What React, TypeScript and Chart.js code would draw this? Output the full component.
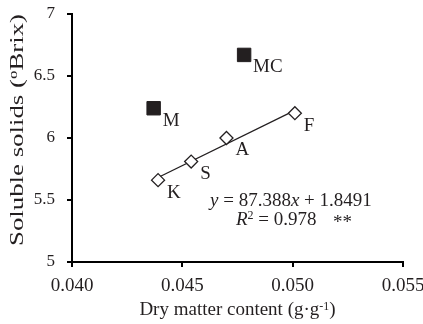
import React, { useEffect, useRef } from 'react';
import { Chart, registerables } from 'chart.js';

Chart.register(...registerables);

// ---- data ----
const fitLabels = ['K', 'S', 'A', 'F'];
const fitX = [0.0439, 0.0454, 0.047, 0.0501];
const fitY = [5.66, 5.81, 6.0, 6.2];

const outLabels = ['M', 'MC'];
const outX = [0.0437, 0.0478];
const outY = [6.24, 6.67];

const xTicks = [0.04, 0.045, 0.05, 0.055];
const yTicks = [5, 5.5, 6, 6.5, 7];

const slopeText = '87.388';
const interceptText = '1.8491';
const r2Text = '0.978';
const sigText = '**';

const xTitleMain = 'Dry matter content (g·g';
const xTitleSup = '-1';
const xTitleEnd = ')';
const yTitleA = 'Soluble solids (';
const yTitleSup = 'o';
const yTitleB = 'Brix)';

const FONT = "'Liberation Serif', 'Times New Roman', serif";
const INK = '#231f20';

function linFit(xs: number[], ys: number[]) {
  const n = xs.length;
  const mx = xs.reduce((a, b) => a + b, 0) / n;
  const my = ys.reduce((a, b) => a + b, 0) / n;
  let sxy = 0, sxx = 0;
  for (let i = 0; i < n; i++) {
    sxy += (xs[i] - mx) * (ys[i] - my);
    sxx += (xs[i] - mx) * (xs[i] - mx);
  }
  const m = sxy / sxx;
  return { m, b: my - m * mx };
}

const labelPlugin = {
  id: 'labelPlugin',
  afterDatasetsDraw(chart: any) {
    const ctx = chart.ctx;
    const xs = chart.scales.x;
    const ys = chart.scales.y;
    ctx.save();
    ctx.fillStyle = INK;
    ctx.font = `19px ${FONT}`;
    ctx.textAlign = 'left';
    ctx.textBaseline = 'middle';
    const put = (labels: string[], X: number[], Y: number[]) => {
      labels.forEach((l, i) => {
        const px = xs.getPixelForValue(X[i]);
        const py = ys.getPixelForValue(Y[i]);
        ctx.fillText(l, px + 9, py + 12.5);
      });
    };
    put(fitLabels, fitX, fitY);
    put(outLabels, outX, outY);
    ctx.restore();
  },
  afterDraw(chart: any) {
    const ctx = chart.ctx;
    const area = chart.chartArea;
    ctx.save();
    ctx.fillStyle = INK;
    ctx.textBaseline = 'alphabetic';
    ctx.textAlign = 'left';

    // x title
    const big = `19px ${FONT}`;
    const small = `12px ${FONT}`;
    ctx.font = big;
    const w1 = ctx.measureText(xTitleMain).width;
    const w3 = ctx.measureText(xTitleEnd).width;
    ctx.font = small;
    const w2 = ctx.measureText(xTitleSup).width;
    const total = w1 + w2 + w3;
    const sx = (area.left + area.right) / 2 - total / 2;
    const by = 315;
    ctx.font = big;
    ctx.fillText(xTitleMain, sx, by);
    ctx.font = small;
    ctx.fillText(xTitleSup, sx + w1, by - 5);
    ctx.font = big;
    ctx.fillText(xTitleEnd, sx + w1 + w2, by);

    // y title (stretched along text)
    ctx.font = big;
    const a1 = ctx.measureText(yTitleA).width;
    const a3 = ctx.measureText(yTitleB).width;
    ctx.font = small;
    const a2 = ctx.measureText(yTitleSup).width;
    const ytot = a1 + a2 + a3;
    const targetLen = 232;
    const stretch = targetLen / ytot;
    ctx.save();
    ctx.translate(23, 130);
    ctx.rotate(-Math.PI / 2);
    ctx.scale(stretch, 1);
    const yx = -ytot / 2;
    ctx.font = big;
    ctx.fillText(yTitleA, yx, 0);
    ctx.font = small;
    ctx.fillText(yTitleSup, yx + a1, -6);
    ctx.font = big;
    ctx.fillText(yTitleB, yx + a1 + a2, 0);
    ctx.restore();

    // equation
    const it = `italic 19px ${FONT}`;
    let ex = 210;
    const eb = 206;
    const seg = (t: string, f: string, dy = 0) => {
      ctx.font = f;
      ctx.fillText(t, ex, eb + dy);
      ex += ctx.measureText(t).width;
    };
    seg('y', it);
    seg(' = ' + slopeText, big);
    seg('x', it);
    seg(' + ' + interceptText, big);

    ex = 236;
    const rb = 225;
    const seg2 = (t: string, f: string, dy = 0) => {
      ctx.font = f;
      ctx.fillText(t, ex, rb + dy);
      ex += ctx.measureText(t).width;
    };
    seg2('R', it);
    seg2('2', small, -6);
    seg2(' = ' + r2Text, big);
    ctx.font = big;
    ctx.fillText(sigText, 333, rb + 3);
    ctx.restore();
  },
};

export default function App() {
  const ref = useRef<HTMLCanvasElement | null>(null);
  useEffect(() => {
    document.body.style.margin = '0';
    const fit = linFit(fitX, fitY);
    const x0 = Math.min(...fitX);
    const x1 = Math.max(...fitX);
    const chart = new Chart(ref.current as HTMLCanvasElement, {
      type: 'scatter',
      data: {
        datasets: [
          {
            data: [
              { x: x0, y: fit.m * x0 + fit.b },
              { x: x1, y: fit.m * x1 + fit.b },
            ],
            showLine: true,
            pointRadius: 0,
            borderColor: INK,
            borderWidth: 1.3,
            order: 3,
          },
          {
            data: fitX.map((x, i) => ({ x, y: fitY[i] })),
            pointStyle: 'rectRot',
            pointRadius: 6.5,
            borderWidth: 1.3,
            borderColor: INK,
            backgroundColor: '#ffffff',
            order: 2,
          },
          {
            data: outX.map((x, i) => ({ x, y: outY[i] })),
            pointStyle: 'rect',
            pointRadius: 9.5,
            borderWidth: 1,
            borderColor: INK,
            backgroundColor: INK,
            order: 1,
          },
        ] as any,
      },
      options: {
        animation: false,
        responsive: false,
        devicePixelRatio: 1,
        layout: { padding: { left: 0, right: 20, top: 14, bottom: 0 } },
        plugins: { legend: { display: false }, tooltip: { enabled: false } },
        scales: {
          x: {
            type: 'linear',
            min: xTicks[0],
            max: xTicks[xTicks.length - 1],
            afterBuildTicks: (s: any) => {
              s.ticks = xTicks.map((v) => ({ value: v }));
            },
            afterFit: (s: any) => {
              s.height = 62;
              s.paddingLeft = 0;
              s.paddingRight = 0;
            },
            grid: { drawOnChartArea: false, drawTicks: true, tickLength: 5, color: '#000', lineWidth: 2 },
            border: { display: true, color: '#000', width: 2 },
            ticks: {
              padding: 7.5,
              color: INK,
              font: { family: FONT, size: 19 },
              maxRotation: 0,
              autoSkip: false,
              callback: (v: any) => Number(v).toFixed(3),
            },
          },
          y: {
            type: 'linear',
            min: yTicks[0],
            max: yTicks[yTicks.length - 1],
            afterBuildTicks: (s: any) => {
              s.ticks = yTicks.map((v) => ({ value: v }));
            },
            afterFit: (s: any) => {
              s.width = 72;
              s.paddingTop = 0;
              s.paddingBottom = 0;
            },
            grid: { drawOnChartArea: false, drawTicks: true, tickLength: 5, color: '#000', lineWidth: 2 },
            border: { display: true, color: '#000', width: 2 },
            ticks: {
              padding: 12,
              color: INK,
              font: { family: FONT, size: 17 },
              autoSkip: false,
              callback: (v: any) => String(v),
            },
          },
        },
      } as any,
      plugins: [labelPlugin],
    });
    return () => chart.destroy();
  }, []);
  return (
    <div style={{ width: 423, height: 324 }}>
      <canvas ref={ref} width={423} height={324} style={{ display: 'block' }} />
    </div>
  );
}
